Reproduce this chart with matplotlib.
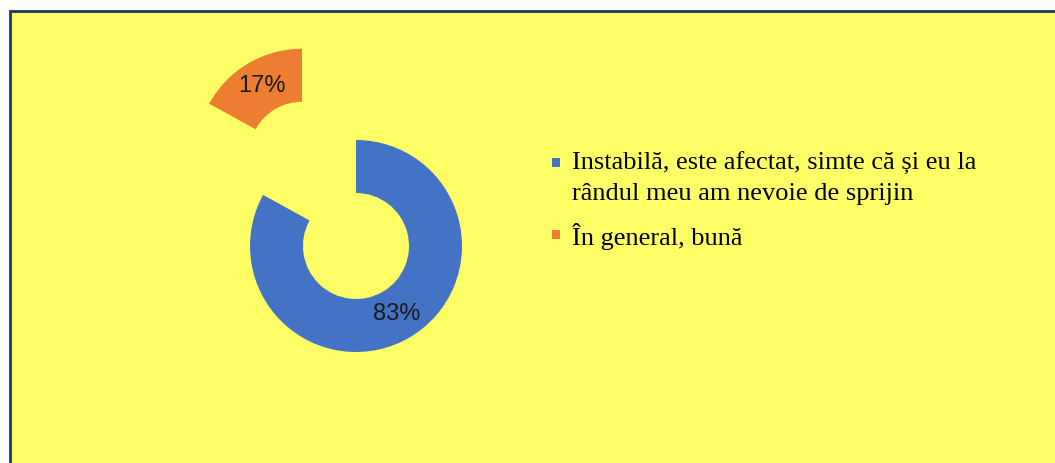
import matplotlib.pyplot as plt
from matplotlib.patches import Rectangle

# data
categories = ['Instabilă, este afectat, simte că și eu la\nrândul meu am nevoie de sprijin',
              'În general, bună']
values = [83, 17]
colors = ['#4472C4', '#ED7D31']

W, H = 1055, 463
fig = plt.figure(figsize=(W / 100, H / 100), dpi=100, facecolor='white')

# yellow chart area with the dark frame on left and top (kept behind the axes)
fig.patches.append(Rectangle((10 / W, -0.05), 1.1, 1 - 11 / H + 0.05, transform=fig.transFigure,
                             facecolor='#FFFF66', edgecolor='#1F3864', linewidth=2, zorder=-10))

# donut, centre at (356, 246) px from top-left, radius 106 px
cx, cy, r = 356, H - 246, 106
ax = fig.add_axes([0, 0, 1, 1])
ax.set_facecolor('none')
wedges, texts, autotexts = ax.pie(values, colors=colors, startangle=90, counterclock=False,
                                  explode=[0, 1.0], radius=1, wedgeprops=dict(width=0.5),
                                  autopct='%1.0f%%', pctdistance=0.75,
                                  textprops=dict(fontsize=17, family='Liberation Sans', color='#1a1a1a'))
ax.set_xlim(-cx / r, (W - cx) / r)
ax.set_ylim(-cy / r, (H - cy) / r)
ax.set_aspect('auto')
ax.axis('off')

# legend, drawn by hand so the marker sits on the first line
marker_y = [162, 234]     # px from top, centre of the square
baseline_y = [200, 245]   # px from top, baseline of the last text line
for lab, col, my, by in zip(categories, colors, marker_y, baseline_y):
    fig.patches.append(Rectangle((552 / W, 1 - (my + 4.5) / H), 8 / W, 9 / H, transform=fig.transFigure,
                                 facecolor=col, edgecolor='none'))
    fig.text(572 / W, 1 - by / H, lab, fontsize=19, family='Liberation Serif',
             color='black', va='baseline', ha='left', linespacing=1.45)

fig.savefig('out.png', dpi=100, facecolor=fig.get_facecolor())
